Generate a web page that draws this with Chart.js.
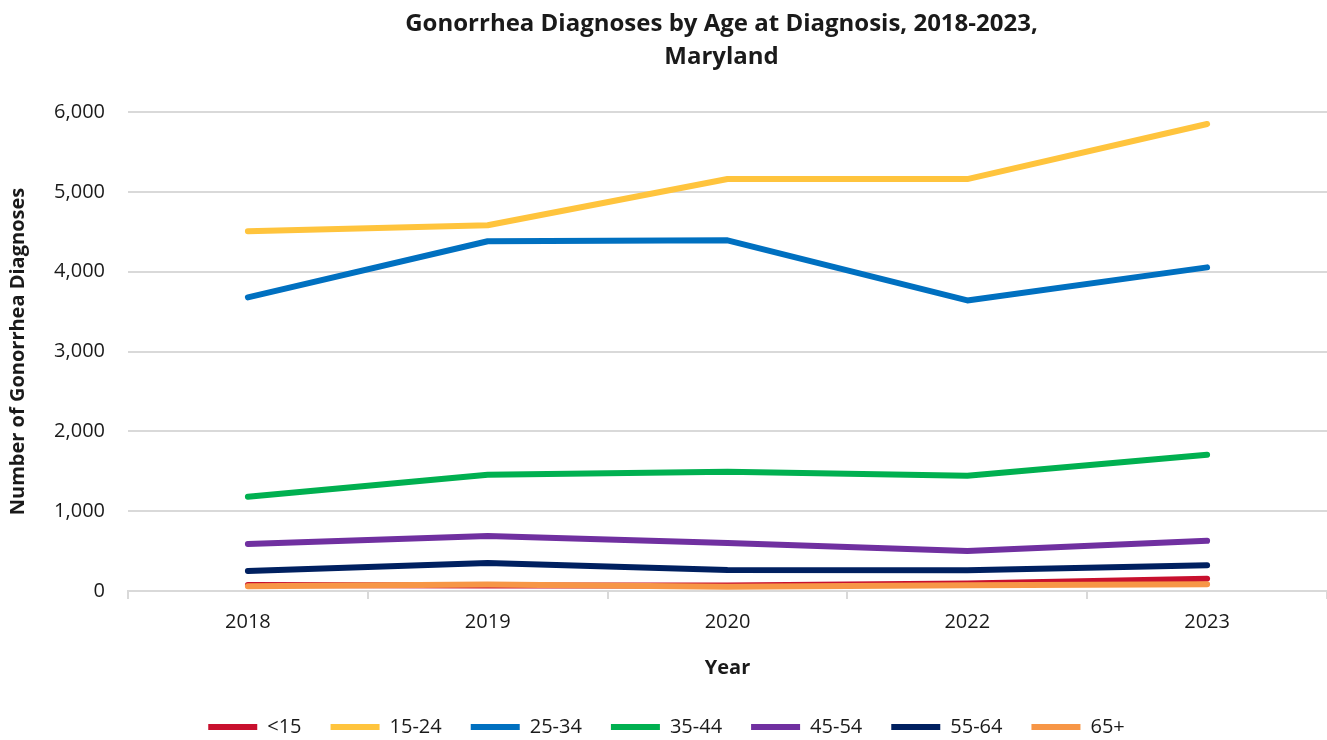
<!DOCTYPE html>
<html>
<head>
<meta charset="utf-8">
<title>Gonorrhea Diagnoses by Age at Diagnosis</title>
<script src="https://cdn.jsdelivr.net/npm/chart.js@4.4.1/dist/chart.umd.min.js"></script>
<style>
  html, body { margin: 0; padding: 0; background: #fff; }
  #wrap { width: 1327px; height: 740px; position: relative; }
</style>
</head>
<body>
<div id="wrap"><canvas id="chart"></canvas></div>
<script>
const years = ["2018", "2019", "2020", "2022", "2023"];
const ageGroups = ["<15", "15-24", "25-34", "35-44", "45-54", "55-64", "65+"];

const under15 = [75, 70, 70, 95, 155];
const age15to24 = [4506, 4581, 5160, 5160, 5850];
const age25to34 = [3678, 4381, 4393, 3640, 4054];
const age35to44 = [1180, 1456, 1494, 1443, 1707];
const age45to54 = [590, 690, 602, 502, 628];
const age55to64 = [251, 351, 264, 260, 323];
const age65plus = [59, 80, 54, 71, 84];

const yTicks = [0, 1000, 2000, 3000, 4000, 5000, 6000];

const seriesValues = [under15, age15to24, age25to34, age35to44, age45to54, age55to64, age65plus];
const colors = ["#C8102E", "#FFC43D", "#0070C0", "#00B050", "#7030A0", "#002060", "#F79646"];

const FONT = "'Open Sans', 'Liberation Sans', sans-serif";
const textColor = "#1a1a1a";
const gridColor = "#d9d9d9";

// title centered over the plot area, like the original
const plotTitle = {
  id: "plotTitle",
  afterDraw(chart) {
    const { ctx, chartArea } = chart;
    const cx = (chartArea.left + chartArea.right) / 2 - 6;
    ctx.save();
    ctx.fillStyle = textColor;
    ctx.font = "bold 24px " + FONT;
    ctx.textAlign = "center";
    ctx.textBaseline = "middle";
    ctx.fillText("Gonorrhea Diagnoses by Age at Diagnosis, 2018-2023,", cx, 24);
    ctx.fillText("Maryland", cx, 57);
    ctx.restore();
  },
};

const datasets = ageGroups.map((label, i) => ({
  label,
  data: seriesValues[i],
  borderColor: colors[i],
  backgroundColor: colors[i],
  borderWidth: 6,
  borderCapStyle: "round",
  borderJoinStyle: "round",
  pointRadius: 0,
  pointHoverRadius: 0,
  pointStyle: "line",
  tension: 0,
  order: ageGroups.length - i,
}));

new Chart(document.getElementById("chart"), {
  type: "line",
  data: { labels: years, datasets },
  plugins: [plotTitle],
  options: {
    responsive: true,
    maintainAspectRatio: false,
    animation: false,
    layout: { padding: { top: 112, left: 6, right: 0, bottom: -7 } },
    plugins: {
      title: { display: false },
      tooltip: { enabled: false },
      legend: {
        position: "bottom",
        labels: {
          usePointStyle: true,
          pointStyleWidth: 49,
          boxHeight: 6,
          padding: 29,
          color: textColor,
          font: { family: FONT, size: 20 },
          sort: (a, b) => a.datasetIndex - b.datasetIndex,
        },
      },
    },
    scales: {
      x: {
        offset: true,
        grid: {
          offset: true,
          drawOnChartArea: false,
          drawTicks: true,
          tickLength: 8,
          color: gridColor,
          lineWidth: 2,
        },
        border: { color: gridColor, width: 2 },
        ticks: { color: textColor, font: { family: FONT, size: 20 }, padding: 11 },
        title: {
          display: true,
          text: "Year",
          color: textColor,
          font: { family: FONT, size: 20, weight: "bold" },
          padding: { top: 11, bottom: 8 },
        },
      },
      y: {
        min: 0,
        max: 6000,
        afterBuildTicks: (scale) => {
          scale.ticks = yTicks.map((v) => ({ value: v }));
        },
        afterFit: (scale) => {
          scale.width = 122;
        },
        grid: { color: gridColor, lineWidth: 2, drawTicks: false },
        border: { display: false },
        ticks: {
          color: textColor,
          font: { family: FONT, size: 20 },
          padding: 23,
          callback: (v) => Number(v).toLocaleString("en-US"),
        },
        title: {
          display: true,
          text: "Number of Gonorrhea Diagnoses",
          color: textColor,
          font: { family: FONT, size: 20, weight: "bold" },
          padding: { top: 0, bottom: 0 },
        },
      },
    },
  },
});
</script>
</body>
</html>
